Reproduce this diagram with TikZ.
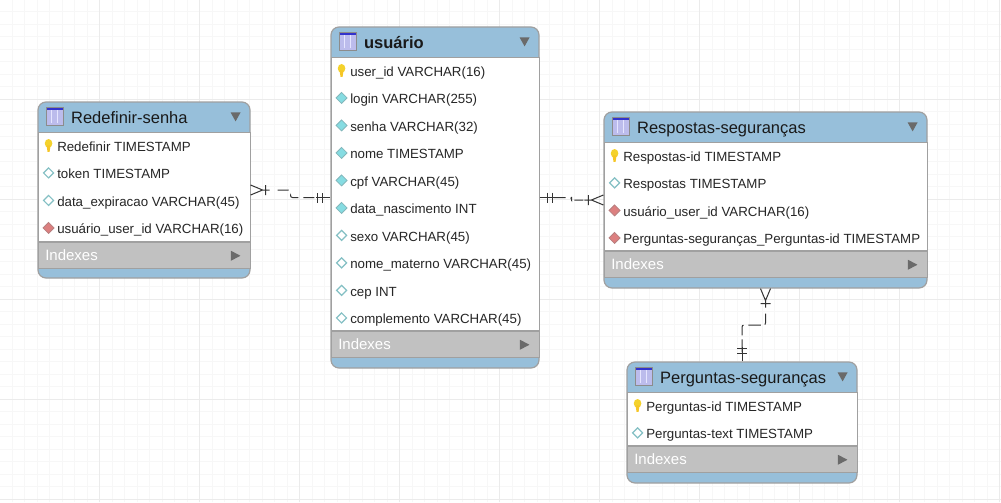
\documentclass[tikz,border=0pt]{standalone}
\usepackage{fontspec}
\setmainfont{Liberation Sans}
\usetikzlibrary{positioning,calc}

\definecolor{cabecalho}{HTML}{97BFDA}
\definecolor{borda}{HTML}{A0A0A0}
\definecolor{faixa}{HTML}{C1C1C1}
\definecolor{setacor}{HTML}{6A6A6A}
\definecolor{linhacor}{HTML}{333333}
\definecolor{amarelo}{HTML}{F4D22C}
\definecolor{ciano}{HTML}{86DCE2}
\definecolor{vermelho}{HTML}{DC7F7F}

\tikzset{
    tabela/.style={draw=borda,line width=1.2pt,fill=cabecalho,rounded corners=8pt,inner sep=0pt},
    corpo/.style={draw=borda,line width=.9pt,fill=white,inner sep=0pt},
    faixaidx/.style={draw=borda,line width=.9pt,fill=faixa,inner sep=0pt},
    titulo/.style={inner sep=0pt,anchor=base west,font=\fontsize{16.5}{17}\selectfont,text=black!90},
    campo/.style={inner sep=0pt,anchor=base west,font=\fontsize{13.3}{14}\selectfont,text=black!85},
    rotuloidx/.style={inner sep=0pt,anchor=base west,font=\fontsize{15}{15}\selectfont,text=white},
    seta/.style={fill=setacor},
    marca/.style={draw=linhacor,line width=1pt},
    relacao/.style={draw=linhacor,line width=1pt,rounded corners=2pt,dash pattern=#1},
    chave/.pic={
        \fill[amarelo] (0,-2) ellipse (3.8 and 4.4);
        \fill[amarelo!85!orange] (-2,0) -- (2,0) -- (1,6.5) -- (-1,6.5) -- cycle;},
    claro/.pic={\path[fill=white,draw=ciano!70!gray,line width=1.2pt] (-5,0)--(0,-5)--(5,0)--(0,5)--cycle;},
    cheio/.pic={\path[fill=ciano,draw=ciano!60!gray,line width=.8pt] (-5.5,0)--(0,-5.5)--(5.5,0)--(0,5.5)--cycle;},
    estrangeira/.pic={\path[fill=vermelho,draw=vermelho!60!gray,line width=.8pt] (-5.5,0)--(0,-5.5)--(5.5,0)--(0,5.5)--cycle;},
    icone/.pic={
        \fill[blue!22!white!85!gray] (-8.5,-9) rectangle (8.5,9);
        \fill[blue!60!gray] (-8.5,-9) rectangle (8.5,-6.5);
        \draw[white!90!blue,line width=.8pt] (-3,-6) -- (-3,7) (2.5,-6) -- (2.5,7);
        \draw[black!45,line width=.8pt] (-8.5,-9) rectangle (8.5,9);},
    corvo/.pic={\path[marca] (0,-5) -- (12,0) -- (0,5) (12,0) -- (19,0) (15,-5) -- (15,5);},
    barras/.pic={\path[marca] (0,0) -- (14,0) (8,-5) -- (8,5) (12.5,-5) -- (12.5,5);},
}

% nome, centro x, centro y, largura, altura, altura do corpo, titulo, campos
\newcommand{\tabela}[8]{
    \node[tabela,minimum width=#4pt,minimum height=#5pt] (#1) at (#2,#3) {};
    \node[corpo,minimum width=#4pt,minimum height=#6pt,below=31pt of #1.north] (#1corpo) {};
    \node[faixaidx,minimum width=#4pt,minimum height=26pt,below=0pt of #1corpo] (#1idx) {};
    \pic at ($(#1.north west)+(17,15)$) {icone};
    \node[titulo] (#1titulo) at ($(#1.north west)+(33.5,22.5)$) {#7};
    \fill[seta] ($(#1.north east)+(-20,11)$) -- ++(10,0) -- ++(-5,9) -- cycle;
    \node[rotuloidx] (#1rotulo) at ($(#1idx.west)+(7.5,4.8)$) {Indexes};
    \fill[seta] ($(#1idx.east)+(-19.5,-5)$) -- ++(9.5,5) -- ++(-9.5,5) -- cycle;
    \foreach \ic/\txt [count=\i] in {#8} {
        \pic at ($(#1corpo.north west)+(11,13+27.5*\i-27.5)$) {\ic};
        \node[campo] (#1campo\i) at ($(#1corpo.north west)+(19.5,19+27.5*\i-27.5)$) {\txt};
    }
}

\begin{document}
\begin{tikzpicture}[x=1pt,y=-1pt]
    \useasboundingbox (0,0) rectangle (1001,503);
    \fill[white] (0,0) rectangle (1001,503);
    % malha do fundo
    \draw[black!3,line width=.9pt,step=12.5pt,xshift=-.5pt,yshift=1pt] (0,0) grid (1001,503);
    \draw[black!8,line width=.9pt,step=100pt,xshift=-.5pt,yshift=1pt] (0,0) grid (1001,503);

    \tabela{redefinir}{144}{190}{212}{176}{109}{Redefinir-senha}{
        chave/Redefinir TIMESTAMP,claro/token TIMESTAMP,claro/data\_expiracao VARCHAR(45),
        estrangeira/usuário\_user\_id VARCHAR(16)}
    \tabela{usuario}{435}{197.5}{208}{341}{273}{\textbf{usuário}}{
        chave/user\_id VARCHAR(16),cheio/login VARCHAR(255),cheio/senha VARCHAR(32),
        cheio/nome TIMESTAMP,cheio/cpf VARCHAR(45),cheio/data\_nascimento INT,
        claro/sexo VARCHAR(45),claro/nome\_materno VARCHAR(45),claro/cep INT,
        claro/complemento VARCHAR(45)}
    \tabela{respostas}{765.5}{200}{323}{176}{108}{Respostas-seguranças}{
        chave/Respostas-id TIMESTAMP,claro/Respostas TIMESTAMP,
        estrangeira/usuário\_user\_id VARCHAR(16),
        estrangeira/Perguntas-seguranças\_Perguntas-id TIMESTAMP}
    \tabela{perguntas}{742}{422.5}{230}{121}{53}{Perguntas-seguranças}{
        chave/Perguntas-id TIMESTAMP,claro/Perguntas-text TIMESTAMP}

    % relacionamentos
    \draw[relacao={on 0pt off 27pt on 11pt off 6pt on 10.5pt off 5pt on 11pt off 30pt}]
        (redefinir.east) -| ($(redefinir.east)!.5!(usuario.west)$) |- (usuario.west);
    \draw[relacao={on 0pt off 14pt on 12pt off 5pt on 10pt off 5.5pt on 9pt off 30pt}]
        (usuario.east) -| ($(usuario.east)!.5!(respostas.west)$) |- (respostas.west);
    \draw[relacao={on 0pt off 25pt on 11pt off 4pt on 12.5pt off 5pt on 11pt off 4pt on 13pt off 30pt}]
        (respostas.south) |- ($(respostas.south)!.5!(perguntas.north)$) -| (perguntas.north);
    \pic at (redefinir.east) {corvo};
    \pic[rotate=180] at (usuario.west) {barras};
    \pic at (usuario.east) {barras};
    \pic[rotate=180] at (respostas.west) {corvo};
    \pic[rotate=-90] at (respostas.south) {corvo};
    \pic[rotate=90] at (perguntas.north) {barras};
\end{tikzpicture}
\end{document}
